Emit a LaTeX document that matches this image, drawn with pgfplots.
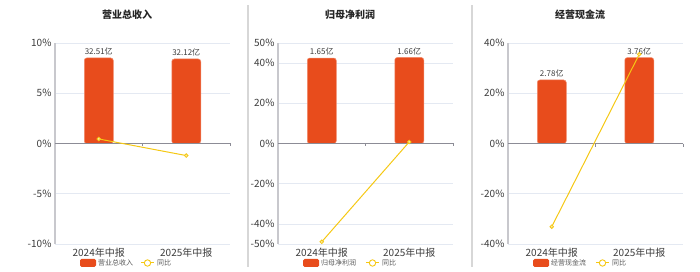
\documentclass[border=0pt]{standalone}
\usepackage{fontspec}
\setmainfont{Noto Sans CJK SC}
\usepackage{pgfplots}
\pgfplotsset{compat=1.18}
\definecolor{barc}{RGB}{232,76,28}
\definecolor{barb}{RGB}{242,140,110}
\definecolor{linec}{RGB}{245,200,20}
\definecolor{gridc}{RGB}{228,233,242}
\definecolor{zeroc}{RGB}{140,140,150}
\definecolor{yaxc}{RGB}{200,200,205}
\definecolor{txtc}{RGB}{60,60,60}
\definecolor{sepc}{RGB}{215,215,215}
\pgfplotsset{
  base/.style={scale only axis, width=175pt, height=201pt, anchor=south west,
    xmin=-0.5, xmax=1.5, clip=false},
  gridax/.style={base, axis lines*=left,
    x axis line style={draw=none},
    y axis line style={draw=yaxc, line width=1.3pt},
    ymajorgrids, grid style={gridc, line width=0.7pt},
    xtick={0,1}, xticklabels={2024年中报,2025年中报},
    major tick length=0pt,
    tick label style={font=\fontsize{10}{12}\selectfont, text=txtc},
    /pgf/number format/assume math mode=true,
    yticklabel={\pgfmathprintnumber{\tick}\%},
    xticklabel style={yshift=-1pt}},
  barax/.style={base, hide axis, ybar, bar width=29pt,
    /pgf/number format/assume math mode=true,
    nodes near coords={\pgfmathprintnumber[fixed,fixed zerofill,precision=2]{\pgfplotspointmeta}亿},
    every node near coord/.append style={font=\fontsize{8}{10}\selectfont, text=txtc, yshift=-1pt}},
  lineax/.style={base, hide axis},
  barsty/.style={fill=barc, draw=barb, line width=0.5pt, rounded corners=2.5pt},
  linesty/.style={linec, line width=1pt, mark=*, mark size=1.8pt,
    mark options={fill=linec!40!white, draw=linec, line width=0.8pt}},
}
\newcommand{\zeroline}{%
  \draw[zeroc, line width=0.9pt] (axis cs:-0.5,0) -- (axis cs:1.5,0);
  \draw[zeroc, line width=0.7pt] (axis cs:0.5,0) -- ([yshift=-3pt]axis cs:0.5,0);
  \draw[zeroc, line width=0.7pt] (axis cs:1.5,0) -- ([yshift=-3pt]axis cs:1.5,0);}
\newcommand{\legendbox}[4]{%
  \fill[barc, rounded corners=1.5pt] (#1pt,5pt) rectangle ++(16pt,8pt);
  \node[anchor=west, inner sep=0pt, font=\fontsize{7}{8}\selectfont, text=txtc!85] at (#1pt+18pt,9pt) {#3};
  \draw[linec, line width=1pt] (#2pt,9pt) -- ++(13pt,0pt);
  \draw[linec, fill=white, line width=0.9pt] (#2pt+6.5pt,9pt) circle (3.2pt);
  \node[anchor=west, inner sep=0pt, font=\fontsize{7}{8}\selectfont, text=txtc!85] at (#2pt+16pt,9pt) {#4};}
\begin{document}
\begin{tikzpicture}
\useasboundingbox (0pt,0pt) rectangle (700pt,272pt);
% separators
\draw[sepc, line width=1.3pt] (248pt,5pt) -- (248pt,267pt);
\draw[sepc, line width=1.3pt] (472pt,5pt) -- (472pt,267pt);
% titles
\node[font=\bfseries\fontsize{10}{12}\selectfont, text=black!85] at (127pt,257pt) {营业总收入};
\node[font=\bfseries\fontsize{10}{12}\selectfont, text=black!85] at (350pt,257pt) {归母净利润};
\node[font=\bfseries\fontsize{10}{12}\selectfont, text=black!85] at (580pt,257pt) {经营现金流};

% ---------- Panel 1
\begin{axis}[gridax, at={(55pt,28pt)}, ymin=-10, ymax=10, ytick={-10,-5,0,5,10}]
\end{axis}
\begin{axis}[barax, at={(55pt,28pt)}, ymin=-38.2, ymax=38.2]
\addplot[barsty] coordinates {(0,32.51) (1,32.12)};
\end{axis}
\begin{axis}[lineax, at={(55pt,28pt)}, ymin=-10, ymax=10]
\zeroline
\addplot[linesty] coordinates {(0,0.45) (1,-1.2)};
\end{axis}
\legendbox{80}{141}{营业总收入}{同比}

% ---------- Panel 2
\begin{axis}[gridax, at={(278pt,28pt)}, ymin=-50, ymax=50, ytick={-50,-40,-20,0,20,40,50}]
\end{axis}
\begin{axis}[barax, at={(278pt,28pt)}, ymin=-1.94, ymax=1.94]
\addplot[barsty] coordinates {(0,1.65) (1,1.66)};
\end{axis}
\begin{axis}[lineax, at={(278pt,28pt)}, ymin=-50, ymax=50]
\zeroline
\addplot[linesty] coordinates {(0,-48.9) (1,0.8)};
\end{axis}
\legendbox{303}{366}{归母净利润}{同比}

% ---------- Panel 3
\begin{axis}[gridax, at={(508pt,28pt)}, ymin=-40, ymax=40, ytick={-40,-20,0,20,40}]
\end{axis}
\begin{axis}[barax, at={(508pt,28pt)}, ymin=-4.40, ymax=4.40]
\addplot[barsty] coordinates {(0,2.78) (1,3.76)};
\end{axis}
\begin{axis}[lineax, at={(508pt,28pt)}, ymin=-40, ymax=40]
\zeroline
\addplot[linesty] coordinates {(0,-33.1) (1,35.5)};
\end{axis}
\legendbox{533}{596}{经营现金流}{同比}
\end{tikzpicture}
\end{document}
